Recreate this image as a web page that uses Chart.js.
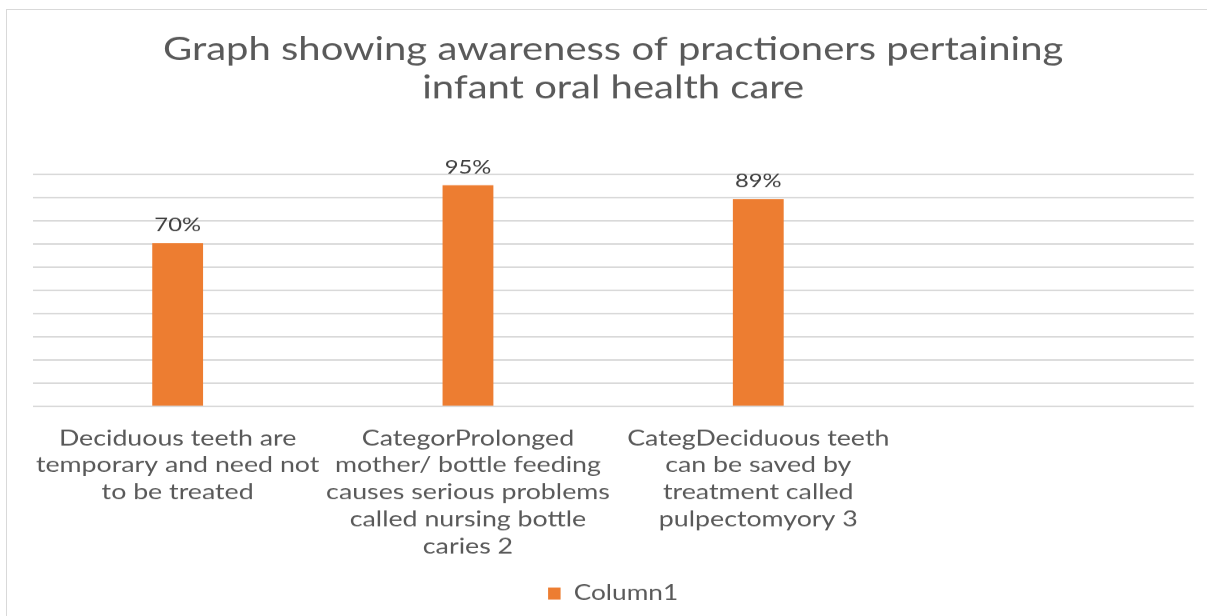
<!DOCTYPE html>
<html>
<head>
<meta charset="utf-8">
<script src="https://cdn.jsdelivr.net/npm/chart.js@4"></script>
<style>
  html, body { margin: 0; padding: 0; background: #fff; overflow: hidden; }
  #frame { position: absolute; left: 6px; top: 9px; width: 1300px; height: 700px; border: 1px solid #d9d9d9; }
</style>
</head>
<body>
<div id="frame"></div>
<!-- the source picture is stretched sideways, so the canvas is drawn narrow and widened by its style -->
<canvas id="myChart" width="966" height="616" style="position:absolute;left:0;top:0;width:1207px;height:616px;"></canvas>
<script>
// data
const categories = [
    ['Deciduous teeth are', 'temporary and need not', 'to be treated'],
    ['CategorProlonged', 'mother/ bottle feeding', 'causes serious problems', 'called nursing bottle', 'caries 2'],
    ['CategDeciduous teeth', 'can be saved by', 'treatment called', 'pulpectomyory 3'],
    ''
];
const column1 = [70, 95, 89, null];
const yTicks = [0, 10, 20, 30, 40, 50, 60, 70, 80, 90, 100];

const titleLines = ['Graph showing awareness of practioners pertaining', 'infant oral health care'];

// value labels above the bars
const barLabels = {
    id: 'barLabels',
    afterDatasetsDraw(chart) {
        const ctx = chart.ctx;
        ctx.save();
        ctx.font = '19px Lato';
        ctx.fillStyle = '#404040';
        ctx.textAlign = 'center';
        ctx.textBaseline = 'bottom';
        chart.getDatasetMeta(0).data.forEach((bar, i) => {
            const v = column1[i];
            if (v == null) return;
            ctx.fillText(v + '%', bar.x, bar.y - 9);
        });
        ctx.restore();
    }
};

const ctx = document.getElementById('myChart').getContext('2d');
new Chart(ctx, {
    type: 'bar',
    data: {
        labels: categories,
        datasets: [{
            label: 'Column1',
            data: column1,
            backgroundColor: '#ED7D31',
            borderWidth: 0,
            barThickness: 40
        }]
    },
    options: {
        responsive: false,
        devicePixelRatio: 1.25,
        animation: false,
        layout: { padding: { left: 26, right: 11, top: 0, bottom: 2 } },
        plugins: {
            title: {
                display: true,
                text: titleLines,
                color: '#595959',
                font: { family: 'Lato', size: 32, weight: 'normal', lineHeight: 38 / 32 },
                padding: { top: 31, bottom: 67 }
            },
            legend: {
                position: 'bottom',
                labels: {
                    color: '#595959',
                    font: { family: 'Lato', size: 21 },
                    boxWidth: 10,
                    boxHeight: 12,
                    padding: 4
                }
            },
            tooltip: { enabled: false }
        },
        scales: {
            x: {
                grid: { display: false, drawTicks: false },
                border: { display: false },
                ticks: {
                    color: '#595959',
                    font: { family: 'Lato', size: 21.4, lineHeight: 27 / 21.4 },
                    padding: 19,
                    maxRotation: 0,
                    autoSkip: false
                }
            },
            y: {
                min: 0,
                max: 100,
                afterBuildTicks(axis) { axis.ticks = yTicks.map(v => ({ value: v })); },
                grid: { color: '#d9d9d9', lineWidth: 1.5, drawTicks: false },
                border: { display: false },
                ticks: { display: false }
            }
        }
    },
    plugins: [barLabels]
});
</script>
</body>
</html>
